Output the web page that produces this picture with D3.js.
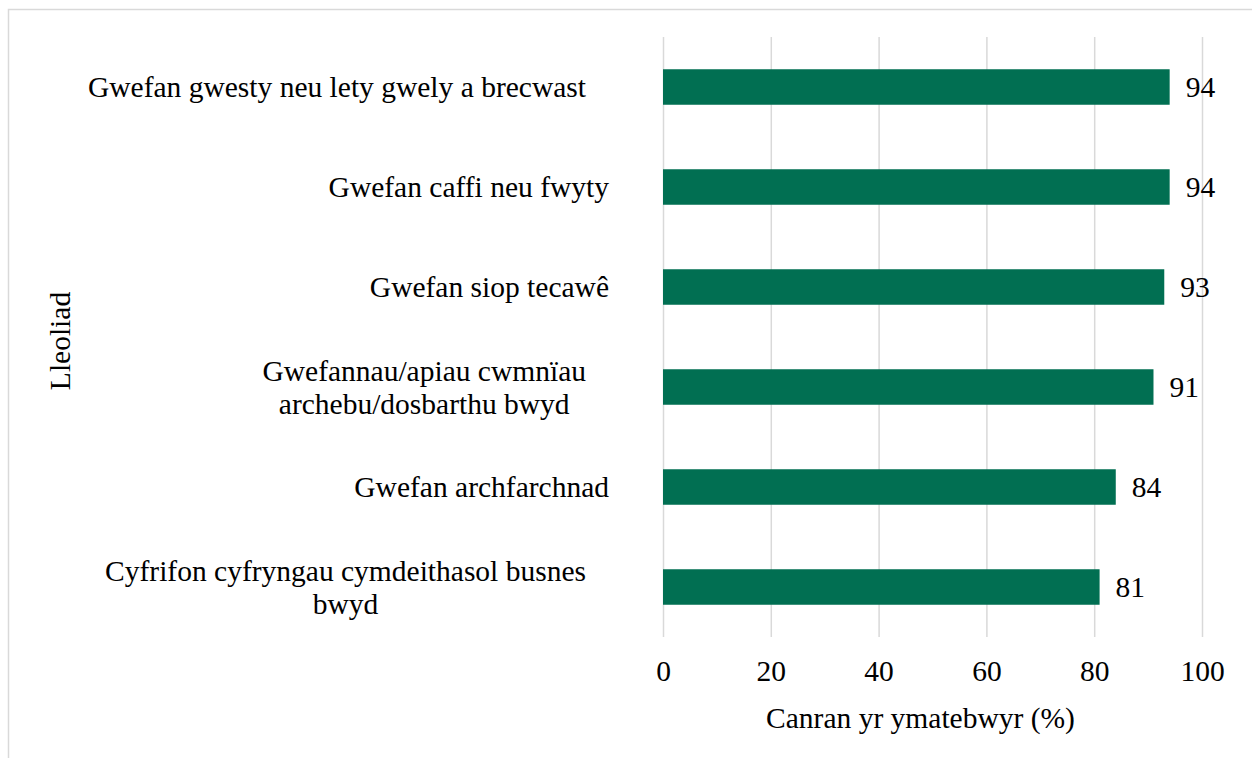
<!DOCTYPE html>
<html>
<head>
<meta charset="utf-8">
<script src="https://cdn.jsdelivr.net/npm/d3@7"></script>
<style>
  html, body { margin: 0; padding: 0; background: #fff; }
  svg { display: block; }
</style>
</head>
<body>
<svg id="chart" width="1252" height="758"></svg>
<script>
// Categories (top to bottom) and their shares of respondents (%)
const categories = [
  ["Gwefan gwesty neu lety gwely a brecwast"],
  ["Gwefan caffi neu fwyty"],
  ["Gwefan siop tecawê"],
  ["Gwefannau/apiau cwmnïau", "archebu/dosbarthu bwyd"],
  ["Gwefan archfarchnad"],
  ["Cyfrifon cyfryngau cymdeithasol busnes", "bwyd"]
];
const values = [94, 94, 93, 91, 84, 81];
const xTicks = [0, 20, 40, 60, 80, 100];
const xTitle = "Canran yr ymatebwyr (%)";
const yTitle = "Lleoliad";

const svg = d3.select("#chart");
const W = 1252, H = 758;
const plot = { left: 663, right: 1202, top: 37, bottom: 637 };
const barColor = "#016f52";
const gridColor = "#d9d9d9";
const FONT = "'Liberation Serif', 'Times New Roman', serif";
const fontSize = 29.5;

const styleText = sel => sel.style("font-family", FONT).style("font-size", fontSize + "px").style("fill", "#000");

// chart frame
svg.append("rect")
  .attr("x", 8.5).attr("y", 9.5)
  .attr("width", W + 20).attr("height", H + 20)
  .attr("fill", "none").attr("stroke", gridColor).attr("stroke-width", 1.5);

const keys = categories.map((c, i) => i);
const x = d3.scaleLinear().domain([0, 100]).range([plot.left, plot.right]);
const y = d3.scaleBand().domain(keys).range([plot.top, plot.bottom])
  .paddingInner(0.645).paddingOuter(0.3225);

// vertical gridlines + tick labels
const xAxis = d3.axisBottom(x).tickValues(xTicks).tickSize(-(plot.bottom - plot.top)).tickPadding(23);
const gx = svg.append("g").attr("transform", `translate(0,${plot.bottom})`).call(xAxis);
gx.select(".domain").remove();
gx.selectAll(".tick line").attr("stroke", gridColor).attr("stroke-width", 1.5);
gx.selectAll(".tick text").call(styleText);

// bars
svg.append("g").selectAll("rect")
  .data(values)
  .join("rect")
  .attr("x", x(0))
  .attr("y", (d, i) => y(i))
  .attr("width", d => x(d) - x(0))
  .attr("height", y.bandwidth())
  .attr("fill", barColor);

// value labels
svg.append("g").selectAll("text")
  .data(values)
  .join("text")
  .attr("x", d => x(d) + 16)
  .attr("y", (d, i) => y(i) + y.bandwidth() / 2)
  .attr("dy", "0.35em")
  .call(styleText)
  .text(d => d);

// category labels; long labels sit a little further from the axis
const lineH = 32.5;
const lg = svg.append("g");
const measure = lg.append("text").call(styleText);
const textWidth = s => { measure.text(s); return measure.node().getComputedTextLength(); };
categories.forEach((lines, i) => {
  const cy = y(i) + y.bandwidth() / 2;
  const w = Math.max(...lines.map(textWidth));
  const right = w > 300 ? 586 : 609;
  const cx = right - w / 2;
  const t = lg.append("text").call(styleText).attr("text-anchor", "middle");
  lines.forEach((l, k) => {
    t.append("tspan")
      .attr("x", cx)
      .attr("y", cy + (k - (lines.length - 1) / 2) * lineH)
      .attr("dy", "0.35em")
      .text(l);
  });
});
measure.remove();

// axis titles
svg.append("text")
  .attr("x", (plot.left + plot.right) / 2 - 12)
  .attr("y", 718).attr("dy", "0.35em")
  .attr("text-anchor", "middle")
  .call(styleText)
  .text(xTitle);

svg.append("text")
  .attr("transform", `translate(60,${(plot.top + plot.bottom) / 2 + 4}) rotate(-90)`)
  .attr("dy", "0.35em")
  .attr("text-anchor", "middle")
  .call(styleText)
  .text(yTitle);
</script>
</body>
</html>
